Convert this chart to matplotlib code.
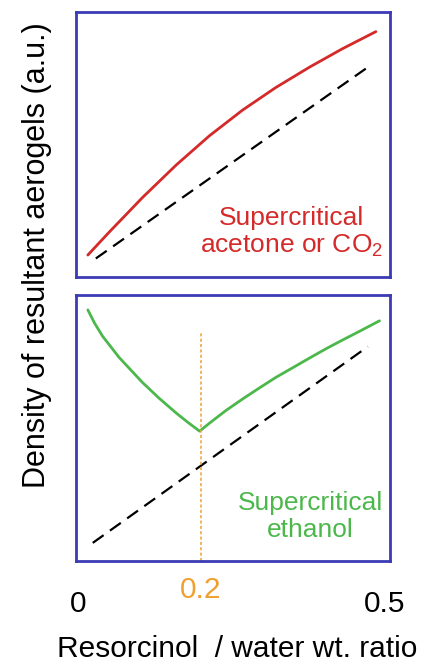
import matplotlib
matplotlib.use('Agg')
import matplotlib.pyplot as plt

plt.rcParams['font.family'] = ['Liberation Sans', 'DejaVu Sans']
plt.rcParams['mathtext.fontset'] = 'custom'
plt.rcParams['mathtext.rm'] = 'Liberation Sans'

# data (x = resorcinol/water ratio, y = arbitrary units)
acetone_x = [0.016, 0.051, 0.105, 0.160, 0.214, 0.268, 0.322, 0.377, 0.431, 0.485]
acetone_y = [0.083, 0.170, 0.300, 0.423, 0.533, 0.630, 0.715, 0.792, 0.862, 0.926]
ref_top_x = [0.029, 0.477]
ref_top_y = [0.070, 0.800]

ethanol_x = [0.016, 0.027, 0.040, 0.067, 0.105, 0.132, 0.160, 0.179, 0.198,
             0.214, 0.241, 0.268, 0.295, 0.322, 0.350, 0.377, 0.404, 0.431,
             0.458, 0.491]
ethanol_y = [0.944, 0.894, 0.845, 0.765, 0.671, 0.612, 0.556, 0.521, 0.488,
             0.518, 0.566, 0.609, 0.650, 0.690, 0.727, 0.763, 0.798, 0.831,
             0.863, 0.903]
ref_bot_x = [0.024, 0.472]
ref_bot_y = [0.068, 0.806]

critical_ratio = 0.2
tick_vals   = [0, 0.5]
tick_labels = ['0', '0.5']

frame_col  = '#3b3bb5'
red        = '#d42a2a'
green      = '#4cb84c'
orange     = '#f0a030'

fig = plt.figure(figsize=(4.21, 6.68), dpi=100)
ax0 = fig.add_axes([0.1805, 0.5853, 0.7458, 0.3967])
ax1 = fig.add_axes([0.1805, 0.1602, 0.7458, 0.3982])

for ax in (ax0, ax1):
  ax.set_xlim(-0.0033, 0.508)
  ax.set_ylim(0, 1)
  ax.set_yticks([])
  for s in ax.spines.values():
    s.set_color(frame_col)
    s.set_linewidth(2.0)

# top panel
ax0.plot(acetone_x, acetone_y, color=red, lw=2.0, solid_capstyle='round',
         solid_joinstyle='round')
ax0.plot(ref_top_x, ref_top_y, color='black', lw=1.6, dashes=(6, 3.5))
ax0.text(0.348, 0.168, 'Supercritical\nacetone or CO$_2$', color=red,
         fontsize=19, ha='center', va='center', linespacing=1.15)
ax0.set_xticks([])

# bottom panel
ax1.plot(ethanol_x, ethanol_y, color=green, lw=2.0, solid_capstyle='round',
         solid_joinstyle='round')
ax1.plot(ref_bot_x, ref_bot_y, color='black', lw=1.6, dashes=(6, 3.5))
ax1.plot([critical_ratio, critical_ratio], [0, 0.856], color=orange,
         lw=1.1, dashes=(2, 1.5))
ax1.text(0.378, 0.167, 'Supercritical\nethanol', color=green,
         fontsize=19, ha='center', va='center', linespacing=1.15)
ax1.set_xticks(tick_vals)
ax1.set_xticklabels(tick_labels, fontsize=21.5)
ax1.tick_params(axis='x', length=0, pad=21)
ax1.text(critical_ratio, -0.109, '0.2', color=orange, fontsize=21.5,
         ha='center', va='center', transform=ax1.get_xaxis_transform())

fig.text(0.563, 0.0165, 'Resorcinol  / water wt. ratio', fontsize=21.5,
         ha='center', va='baseline')
fig.text(0.088, 0.618, 'Density of resultant aerogels (a.u.)', fontsize=22,
         rotation=90, ha='center', va='center')

fig.savefig('out.png', dpi=100)
